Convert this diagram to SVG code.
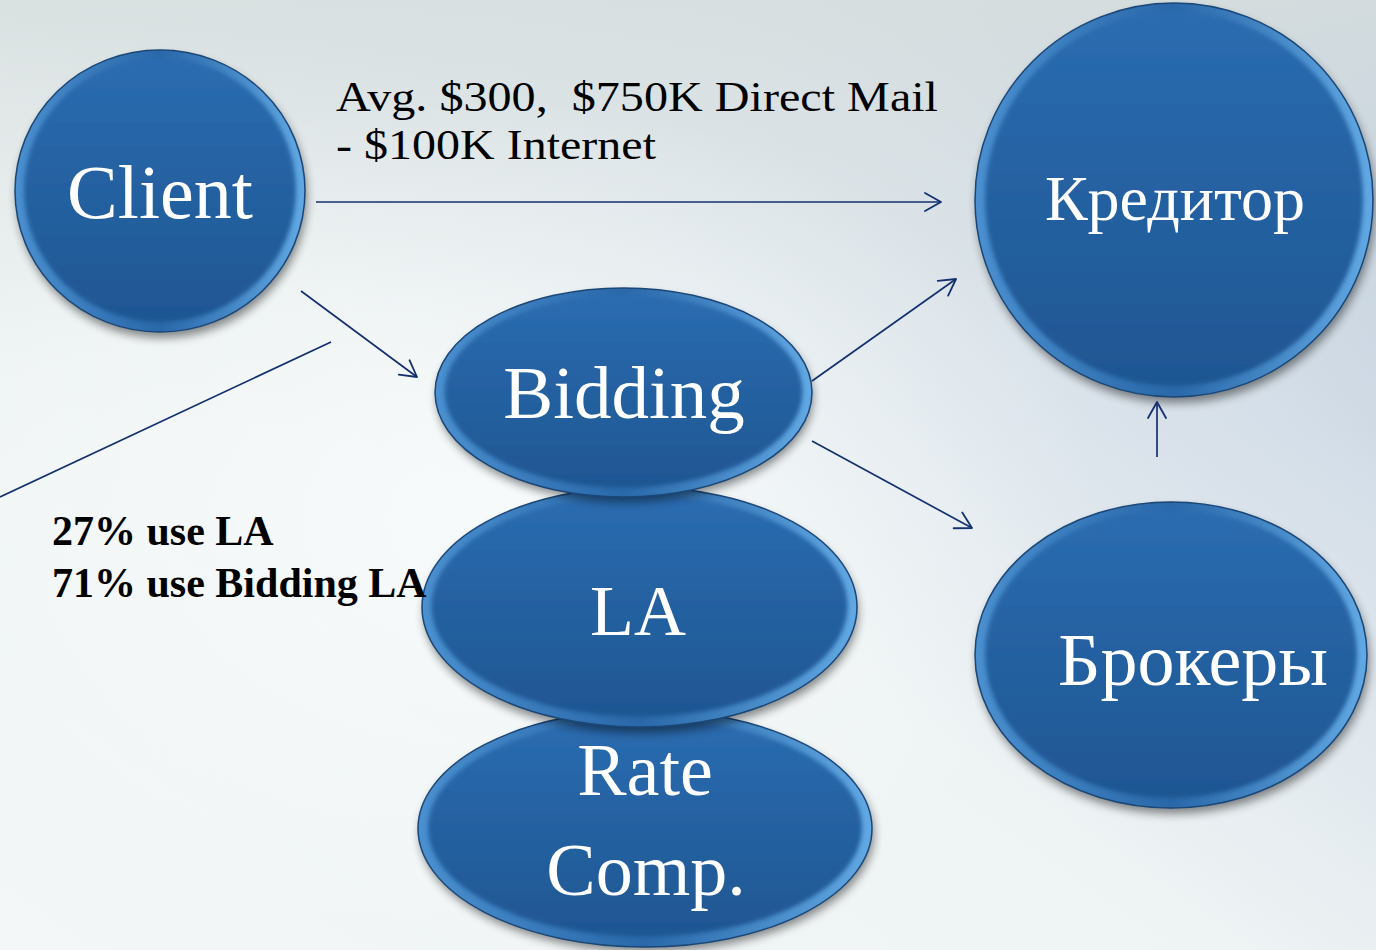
<svg xmlns="http://www.w3.org/2000/svg" width="1376" height="950" viewBox="0 0 1376 950">
<defs>
<linearGradient id="bg" x1="0" y1="1" x2="1" y2="0">
<stop offset="0" stop-color="#f3f7f8"/>
<stop offset="0.45" stop-color="#eef3f4"/>
<stop offset="0.75" stop-color="#d4dee8"/>
<stop offset="1" stop-color="#a9bcd3"/>
</linearGradient>
<linearGradient id="bgTop" x1="0" y1="0" x2="0" y2="1">
<stop offset="0" stop-color="#d8dfdf" stop-opacity="0.9"/>
<stop offset="0.45" stop-color="#e4eaea" stop-opacity="0"/>
</linearGradient>
<radialGradient id="bgGlow" cx="0.35" cy="0.55" r="0.45">
<stop offset="0" stop-color="#f8fbfb" stop-opacity="0.9"/>
<stop offset="1" stop-color="#f8fbfb" stop-opacity="0"/>
</radialGradient>
<linearGradient id="rim" x1="0" y1="0" x2="1" y2="0">
<stop offset="0" stop-color="#4b90d0"/>
<stop offset="0.5" stop-color="#2a68a9"/>
<stop offset="1" stop-color="#62a9e4"/>
</linearGradient>
<linearGradient id="face" x1="0" y1="0" x2="0" y2="1">
<stop offset="0" stop-color="#2a6cb0"/>
<stop offset="1" stop-color="#1f5692"/>
</linearGradient>
<filter id="sh" x="-20%" y="-20%" width="140%" height="140%">
<feGaussianBlur stdDeviation="5"/>
</filter>
<filter id="soft" x="-10%" y="-10%" width="120%" height="120%">
<feGaussianBlur stdDeviation="2.2"/>
</filter>
<marker id="ah" viewBox="-18 -11 20 22" markerWidth="20" markerHeight="22" refX="0" refY="0" orient="auto" markerUnits="userSpaceOnUse">
<path d="M-16,-9 L0,0 L-16,9" fill="none" stroke="#14306e" stroke-width="1.8" stroke-linecap="round" stroke-linejoin="round"/>
</marker>
</defs>
<style>
.shadow{fill:#000;opacity:0.45;filter:url(#sh)}
.rim{fill:url(#rim);stroke:#1a4777;stroke-width:1.5}
.face{fill:url(#face);filter:url(#soft)}
.lbl{font-family:"Liberation Serif","Times New Roman",serif;fill:#ffffff;text-anchor:middle}
.conn{fill:none;stroke:#14306e;stroke-width:1.7}
.note{font-family:"Liberation Serif","Times New Roman",serif;fill:#000;white-space:pre}
.bold{font-family:"Liberation Serif","Times New Roman",serif;fill:#000;font-weight:bold}
</style>
<rect width="1376" height="950" fill="url(#bg)"/>
<rect width="1376" height="950" fill="url(#bgTop)"/>
<rect width="1376" height="950" fill="url(#bgGlow)"/>

<g id="node-client">
<ellipse class="shadow" cx="162" cy="197" rx="145" ry="141"/>
<ellipse class="rim" cx="160" cy="191" rx="145" ry="141"/>
<ellipse class="face" cx="160" cy="190" rx="136" ry="132"/>
<text class="lbl" x="160" y="218" font-size="76">Client</text>
</g>

<g id="node-kreditor">
<ellipse class="shadow" cx="1176" cy="206" rx="199" ry="197"/>
<ellipse class="rim" cx="1174" cy="200" rx="199" ry="197"/>
<ellipse class="face" cx="1174" cy="199" rx="189" ry="187"/>
<text class="lbl" x="1175" y="220" font-size="64">Кредитор</text>
</g>

<g id="node-brokery">
<ellipse class="shadow" cx="1173" cy="661" rx="196" ry="153"/>
<ellipse class="rim" cx="1171" cy="655" rx="196" ry="153"/>
<ellipse class="face" cx="1171" cy="654" rx="186" ry="144"/>
<text class="lbl" x="1193" y="685" font-size="74">Брокеры</text>
</g>

<g id="node-ratecomp">
<ellipse class="shadow" cx="647" cy="834" rx="227" ry="118"/>
<ellipse class="rim" cx="645" cy="828.5" rx="227" ry="118.5"/>
<ellipse class="face" cx="645" cy="827.5" rx="217" ry="109"/>
<text class="lbl" x="645" y="795" font-size="74">Rate</text>
<text class="lbl" x="646" y="895" font-size="74">Comp.</text>
</g>

<g id="node-la">
<ellipse class="shadow" cx="641" cy="613" rx="217" ry="120"/>
<ellipse class="rim" cx="639.5" cy="607" rx="217.5" ry="120"/>
<ellipse class="face" cx="639.5" cy="606" rx="208" ry="111"/>
<text class="lbl" x="638" y="635" font-size="72">LA</text>
</g>

<g id="node-bidding">
<ellipse class="shadow" cx="625" cy="398" rx="188" ry="104"/>
<ellipse class="rim" cx="623.5" cy="392.5" rx="188.5" ry="104.5"/>
<ellipse class="face" cx="623.5" cy="391.5" rx="179" ry="96"/>
<text class="lbl" x="624" y="418" font-size="75">Bidding</text>
</g>

<g id="connectors">
<line class="conn" x1="316" y1="202" x2="941" y2="202" marker-end="url(#ah)"/>
<line class="conn" x1="301" y1="291" x2="417" y2="377" marker-end="url(#ah)"/>
<line class="conn" x1="331" y1="342" x2="0" y2="497"/>
<line class="conn" x1="812" y1="381" x2="956" y2="279" marker-end="url(#ah)"/>
<line class="conn" x1="812" y1="441" x2="972" y2="528" marker-end="url(#ah)"/>
<line class="conn" x1="1157" y1="457" x2="1157" y2="402" marker-end="url(#ah)"/>
</g>

<g id="labels">
<text class="note" x="336" y="111" font-size="43" textLength="602" lengthAdjust="spacingAndGlyphs">Avg. $300,  $750K Direct Mail</text>
<text class="note" x="336" y="159" font-size="43" textLength="320" lengthAdjust="spacingAndGlyphs">- $100K Internet</text>
<text class="bold" x="52" y="545" font-size="42">27% use LA</text>
<text class="bold" x="52" y="597" font-size="42">71% use Bidding LA</text>
</g>
</svg>
